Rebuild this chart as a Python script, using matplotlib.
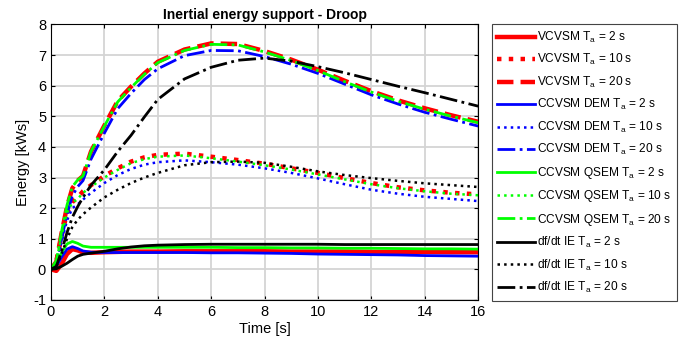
import matplotlib
matplotlib.use('Agg')
import matplotlib.pyplot as plt

plt.rcParams['font.family'] = ['Liberation Sans', 'DejaVu Sans']
plt.rcParams['mathtext.fontset'] = 'custom'
plt.rcParams['mathtext.rm'] = 'Liberation Sans'
plt.rcParams['mathtext.it'] = 'Liberation Sans'
plt.rcParams['axes.unicode_minus'] = False

t = [0, 0.2, 0.4, 0.6, 0.8, 1.0, 1.2, 1.5, 2, 2.5, 3, 3.5, 4, 5, 6, 7, 8, 9, 10, 11, 12, 13, 14, 15, 16]

# Ta = 2 s
vc_2 = [0, -0.05, 0.18, 0.5, 0.66, 0.62, 0.55, 0.54, 0.56, 0.57, 0.58, 0.58, 0.58, 0.59, 0.59, 0.59, 0.59, 0.58, 0.58, 0.58, 0.57, 0.57, 0.57, 0.56, 0.56]
dem_2 = [0, 0.1, 0.4, 0.66, 0.74, 0.68, 0.6, 0.56, 0.55, 0.55, 0.55, 0.55, 0.55, 0.55, 0.54, 0.54, 0.53, 0.52, 0.5, 0.49, 0.48, 0.47, 0.45, 0.44, 0.43]
qsem_2 = [0, 0.2, 0.55, 0.83, 0.91, 0.85, 0.76, 0.72, 0.72, 0.72, 0.72, 0.72, 0.72, 0.72, 0.72, 0.71, 0.71, 0.7, 0.7, 0.69, 0.69, 0.68, 0.67, 0.67, 0.66]
dfdt_2 = [0, 0.02, 0.1, 0.2, 0.32, 0.43, 0.49, 0.53, 0.59, 0.67, 0.73, 0.77, 0.79, 0.81, 0.82, 0.82, 0.82, 0.82, 0.82, 0.81, 0.81, 0.81, 0.81, 0.81, 0.81]

# Ta = 10 s
vc_10 = [0, 0.25, 1.1, 1.85, 2.2, 2.35, 2.55, 2.75, 3.05, 3.3, 3.52, 3.66, 3.74, 3.78, 3.68, 3.57, 3.45, 3.3, 3.15, 2.98, 2.82, 2.68, 2.58, 2.5, 2.45]
dem_10 = [0, 0.2, 0.9, 1.6, 2.0, 2.12, 2.28, 2.5, 2.82, 3.08, 3.28, 3.42, 3.5, 3.56, 3.5, 3.42, 3.3, 3.15, 2.97, 2.78, 2.6, 2.47, 2.37, 2.3, 2.23]
qsem_10 = [0, 0.27, 1.12, 1.85, 2.18, 2.3, 2.5, 2.7, 3.0, 3.25, 3.47, 3.6, 3.68, 3.72, 3.63, 3.52, 3.4, 3.26, 3.1, 2.94, 2.78, 2.65, 2.55, 2.47, 2.42]
dfdt_10 = [0, 0.1, 0.5, 1.0, 1.38, 1.62, 1.8, 2.02, 2.35, 2.6, 2.82, 3.0, 3.15, 3.4, 3.5, 3.52, 3.48, 3.35, 3.2, 3.08, 2.98, 2.89, 2.81, 2.75, 2.69]

# Ta = 20 s
vc_20 = [0, 0.25, 1.2, 2.05, 2.65, 2.9, 3.05, 3.85, 4.7, 5.5, 5.97, 6.4, 6.78, 7.18, 7.38, 7.36, 7.13, 6.85, 6.52, 6.16, 5.82, 5.52, 5.26, 5.03, 4.82]
dem_20 = [0, 0.2, 1.0, 1.8, 2.4, 2.7, 2.9, 3.6, 4.45, 5.25, 5.75, 6.2, 6.55, 6.98, 7.15, 7.14, 6.95, 6.7, 6.4, 6.05, 5.7, 5.4, 5.13, 4.9, 4.68]
qsem_20 = [0, 0.28, 1.25, 2.1, 2.7, 2.92, 3.05, 3.85, 4.68, 5.47, 5.94, 6.37, 6.75, 7.15, 7.35, 7.33, 7.1, 6.82, 6.49, 6.13, 5.79, 5.49, 5.23, 5.0, 4.79]
dfdt_20 = [0, 0.1, 0.6, 1.2, 1.7, 2.05, 2.35, 2.75, 3.25, 3.85, 4.38, 4.98, 5.55, 6.22, 6.6, 6.83, 6.9, 6.8, 6.62, 6.42, 6.2, 5.98, 5.77, 5.55, 5.33]

labels = [r'VCVSM T$_\mathrm{a}$ = 2 s', r'VCVSM T$_\mathrm{a}$ = 10 s', r'VCVSM T$_\mathrm{a}$ = 20 s',
          r'CCVSM DEM T$_\mathrm{a}$ = 2 s', r'CCVSM DEM T$_\mathrm{a}$ = 10 s', r'CCVSM DEM T$_\mathrm{a}$ = 20 s',
          r'CCVSM QSEM T$_\mathrm{a}$ = 2 s', r'CCVSM QSEM T$_\mathrm{a}$ = 10 s', r'CCVSM QSEM T$_\mathrm{a}$ = 20 s',
          r'df/dt IE T$_\mathrm{a}$ = 2 s', r'df/dt IE T$_\mathrm{a}$ = 10 s', r'df/dt IE T$_\mathrm{a}$ = 20 s']

series = [vc_2, vc_10, vc_20, dem_2, dem_10, dem_20, qsem_2, qsem_10, qsem_20, dfdt_2, dfdt_10, dfdt_20]
colors = ['#ff0000'] * 3 + ['#0000ff'] * 3 + ['#00ff00'] * 3 + ['#000000'] * 3
styles = ['-', ':', '--', '-', ':', '-.', '-', ':', '-.', '-', ':', '-.']
widths = [3.2, 3.2, 3.2, 2.0, 1.8, 2.0, 2.0, 1.8, 2.0, 2.0, 1.8, 2.0]

fig = plt.figure(figsize=(6.89, 3.44), dpi=100)
ax = fig.add_axes([0.074, 0.128, 0.62, 0.801])

for y, c, ls, lw, lab in zip(series, colors, styles, widths, labels):
    ax.plot(t, y, color=c, linestyle=ls, linewidth=lw, label=lab)

ax.set_xlim(0, 16)
ax.set_ylim(-1, 8)
ax.set_xticks(range(0, 17, 2))
ax.set_yticks(range(-1, 9))
ax.grid(True, color='#d4d4d4', linewidth=1.3)
ax.set_axisbelow(True)
ax.tick_params(direction='in', top=True, right=True, labelsize=10.5, length=3)
for s in ax.spines.values():
    s.set_linewidth(0.8)
ax.set_title('Inertial energy support - Droop', fontsize=10, fontweight='bold', pad=4)
ax.set_xlabel('Time [s]', fontsize=10.5, labelpad=2)
ax.set_ylabel('Energy [kWs]', fontsize=10.5, labelpad=2)

leg = fig.legend(loc='upper left', bbox_to_anchor=(0.7136, 0.929), fontsize=8.6,
                 handlelength=3.2, handletextpad=0.15, labelspacing=0.62,
                 borderpad=0.45, borderaxespad=0, fancybox=False, framealpha=1)
leg.get_frame().set_edgecolor('#444444')
leg.get_frame().set_linewidth(0.8)

fig.savefig('out.png', dpi=100)
